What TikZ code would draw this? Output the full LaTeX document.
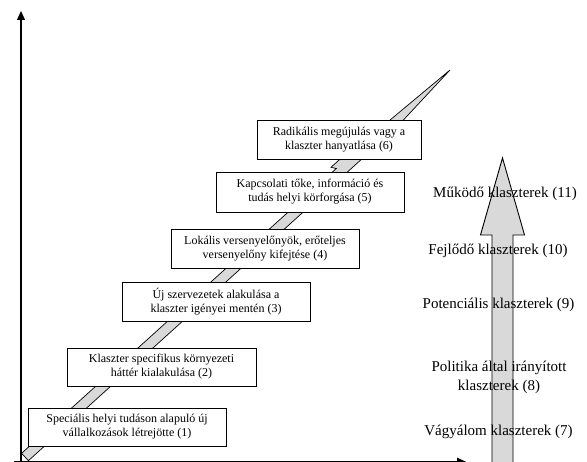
\documentclass[tikz,border=0pt]{standalone}
\usepackage{fontspec}
\setmainfont{Liberation Serif}
\usetikzlibrary{arrows.meta,shadows}
\definecolor{bandgray}{RGB}{217,217,217}
\begin{document}
\begin{tikzpicture}[x=1pt,y=-1pt,
  stepbox/.style={draw=black, line width=0.7pt, fill=white, align=center,
    font=\fontsize{12}{14}\selectfont, minimum height=38pt, inner sep=2pt,
    drop shadow={shadow xshift=1.3pt,shadow yshift=-1.3pt,fill=black!85,opacity=1}},
  lab/.style={align=center, font=\fontsize{15}{19}\selectfont, inner sep=0pt},
  axisline/.style={line width=1.3pt, -{Triangle[length=9pt,width=8pt]}},
  grayshape/.style={fill=bandgray, draw=black, line width=0.7pt, line join=miter}
  ]
\useasboundingbox (0,0) rectangle (587,462);
% axes
\coordinate (o) at (21,470);
\coordinate (ytop) at (21,11);
\coordinate (ox) at (14,461.8);
\coordinate (xend) at (466,461.8);
\draw[axisline] (o) -- (ytop);
\draw[axisline, line width=1.2pt] (ox) -- (xend);
% diagonal band
\coordinate (bl) at (21.6,453.3);
\coordinate (br) at (28.4,460.7);
\coordinate (z1) at (331.9,172.5);
\coordinate (z2) at (336.3,168.5);
\coordinate (z3) at (331,167.3);
\coordinate (z4) at (341.3,158);
\coordinate (hl) at (388.5,121.3);
\coordinate (tip) at (450,70);
\coordinate (hr) at (395.3,128.7);
\draw[grayshape] (bl) -- (z1) -- (z2) -- (z3) -- (z4) -- (hl) -- (tip) -- (hr) -- (br) -- cycle;
% boxes
\node[stepbox, minimum width=198pt] (b1) at (127,427) {Speciális helyi tudáson alapuló új\\vállalkozások létrejötte (1)};
\node[stepbox, minimum width=189pt] (b2) at (161.5,367) {Klaszter specifikus környezeti\\háttér kialakulása (2)};
\node[stepbox, minimum width=188pt, minimum height=39pt] (b3) at (216,301.5) {Új szervezetek alakulása a\\klaszter igényei mentén (3)};
\node[stepbox, minimum width=188pt, minimum height=39pt] (b4) at (265,248.5) {Lokális versenyelőnyök, erőteljes\\versenyelőny kifejtése (4)};
\node[stepbox, minimum width=188pt, minimum height=40pt] (b5) at (310,192) {Kapcsolati tőke, információ és\\tudás helyi körforgása (5)};
\node[stepbox, minimum width=164pt, minimum height=39pt] (b6) at (339,139.5) {Radikális megújulás vagy a\\klaszter hanyatlása (6)};
% big vertical arrow
\coordinate (s1) at (492,470);
\coordinate (s2) at (492,235);
\coordinate (h1) at (480.5,235);
\coordinate (vtip) at (502.5,158);
\coordinate (h2) at (524.5,235);
\coordinate (s3) at (513,235);
\coordinate (s4) at (513,470);
\draw[grayshape, line width=0.9pt] (s1) -- (s2) -- (h1) -- (vtip) -- (h2) -- (s3) -- (s4) -- cycle;
% labels
\node[lab] (l11) at (505,194) {Működő klaszterek (11)};
\node[lab] (l10) at (498,251) {Fejlődő klaszterek (10)};
\node[lab] (l9) at (498.5,304.5) {Potenciális klaszterek (9)};
\node[lab] (l8) at (499,377.5) {Politika által irányított\\klaszterek (8)};
\node[lab] (l7) at (498.5,432) {Vágyálom klaszterek (7)};
\end{tikzpicture}
\end{document}
